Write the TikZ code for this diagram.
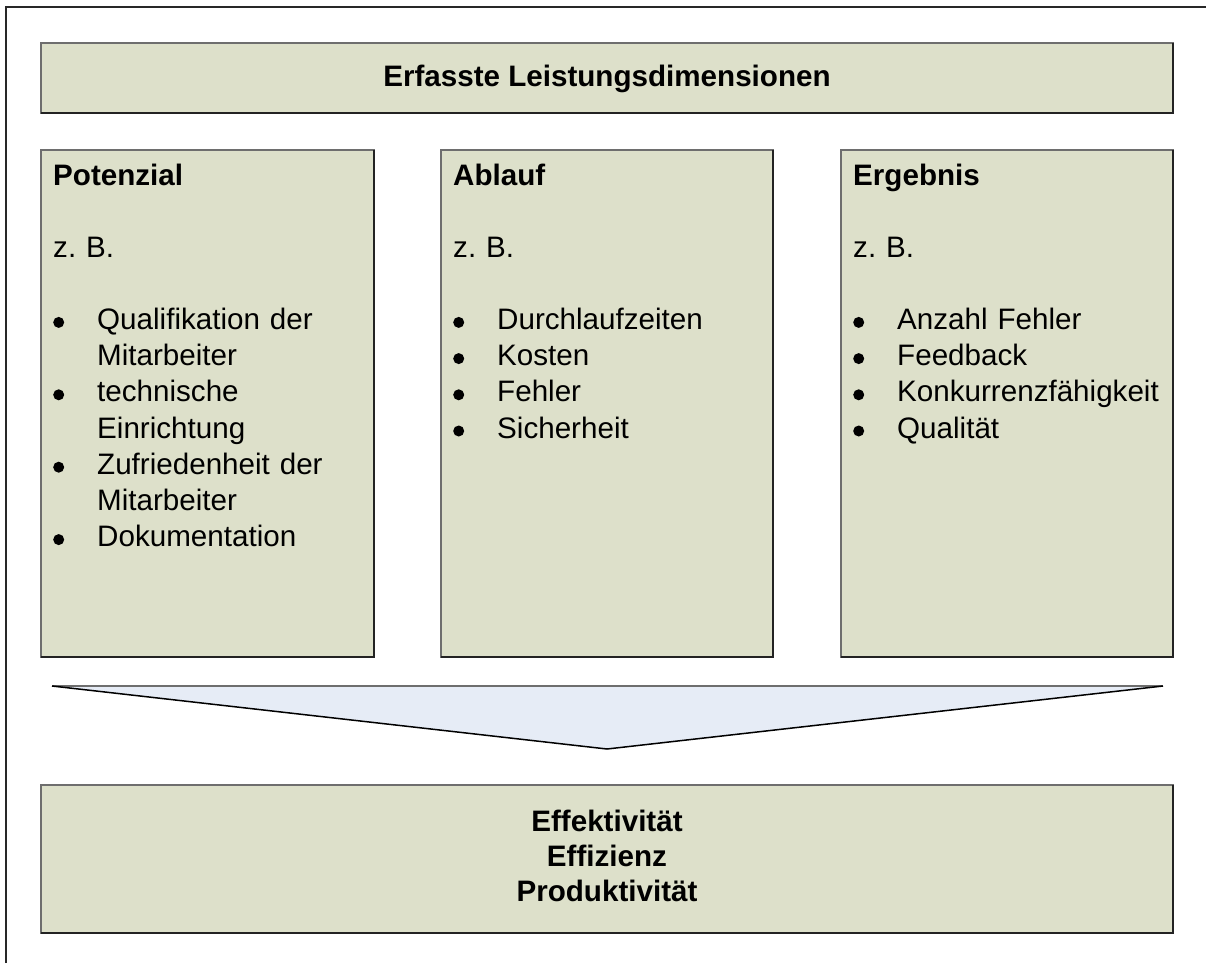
\documentclass[tikz,border=0pt]{standalone}
\usepackage{fontspec}
\setmainfont{Liberation Sans}
\frenchspacing

\definecolor{boxfill}{RGB}{221,224,202}
\definecolor{boxedge}{RGB}{110,110,110}
\definecolor{boxdark}{RGB}{35,35,35}
\definecolor{arrowfill}{RGB}{230,236,246}
\definecolor{framecol}{RGB}{40,40,40}

% bullet list helpers
\newcommand\bulletmark{\tikz[baseline=0pt]\fill[black] (0pt,7pt) circle (5.5pt);}
\newcommand\listitem[1]{\par\noindent\hangindent=44pt\hangafter=1\makebox[44pt][l]{\hspace{0pt}\bulletmark}#1}
\newcommand\gap{\par\vskip36pt}

\begin{document}
\begin{tikzpicture}[x=1pt,y=-1pt,
  panel/.style={draw=boxedge, line width=2pt, fill=boxfill, inner sep=0pt, outer sep=0pt, anchor=north west},
  darkedge/.style={draw=boxdark, line width=2pt},
  bodyfont/.style={font=\fontsize{29.6}{36.2}\selectfont},
  coltext/.style={bodyfont, anchor=base west, text width=320pt, align=left, inner sep=0pt},
  headtext/.style={font=\fontsize{29.6}{35}\selectfont\bfseries, inner sep=0pt}
]
\useasboundingbox (0,0) rectangle (1206,963);

% page frame
\coordinate (fa) at (6,963);
\coordinate (fb) at (6,7);
\coordinate (fc) at (1206,7);
\draw[framecol, line width=2pt] (fa) -- (fb) -- (fc);

% panels
\node[panel, minimum width=1132pt, minimum height=70pt] (head) at (41,43) {};
\node[panel, minimum width=333pt, minimum height=507pt] (pot) at (41,150) {};
\node[panel, minimum width=332pt, minimum height=507pt] (abl) at (441,150) {};
\node[panel, minimum width=332pt, minimum height=507pt] (erg) at (841,150) {};
\node[panel, minimum width=1132pt, minimum height=148pt] (res) at (41,785) {};

\foreach \b in {head,pot,abl,erg,res}
  \draw[darkedge] (\b.north east) -- (\b.south east) -- (\b.south west);

% texts
\node[headtext, anchor=base] (headtxt) at (607,87) {Erfasste Leistungsdimensionen};

\node[coltext] (pottxt) at (53,185) {\textbf{Potenzial}\gap z. B.\gap
  \listitem{Qualifikation der\newline Mitarbeiter}
  \listitem{technische\newline Einrichtung}
  \listitem{Zufriedenheit der\newline Mitarbeiter}
  \listitem{Dokumentation}};

\node[coltext] (abltxt) at (453,185) {\textbf{Ablauf}\gap z. B.\gap
  \listitem{Durchlaufzeiten}
  \listitem{Kosten}
  \listitem{Fehler}
  \listitem{Sicherheit}};

\node[coltext] (ergtxt) at (853,185) {\textbf{Ergebnis}\gap z. B.\gap
  \listitem{Anzahl Fehler}
  \listitem{Feedback}
  \listitem{Konkurrenzfähigkeit}
  \listitem{Qualität}};

\node[headtext, align=center] (restxt) at (607,856) {Effektivität\\Effizienz\\Produktivität};

% funnel arrow
\coordinate (tl) at (52,686);
\coordinate (tr) at (1163,686);
\coordinate (tip) at (607,749);
\fill[arrowfill] (tl) -- (tr) -- (tip) -- cycle;
\draw[boxedge, line width=1.5pt] (tl) -- (tr);
\draw[black, line width=1.5pt, line join=round] (tr) -- (tip) -- (tl);
\end{tikzpicture}
\end{document}
